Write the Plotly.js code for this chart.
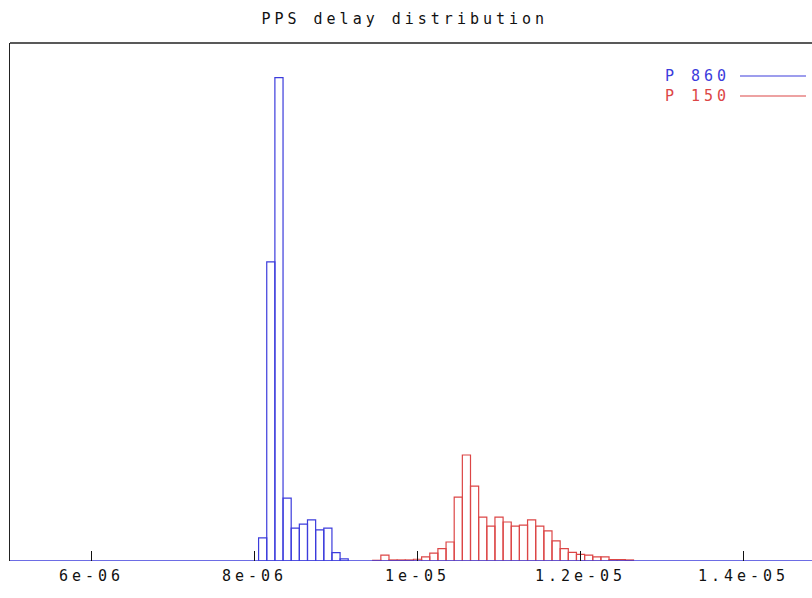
<!DOCTYPE html>
<html>
<head>
<meta charset="utf-8">
<script src="https://cdn.plot.ly/plotly-3.0.1.min.js"></script>
<style>
  html, body { margin: 0; padding: 0; background: #fff; overflow: hidden; }
  #chart { width: 812px; height: 598px; }
  #chart .main-svg text { letter-spacing: 4px; }
</style>
</head>
<body>
<div id="chart"></div>
<script>
// ---- Data ----
const binWidth = 1e-7;

// P 860 histogram (bin centres, counts)
const p860Bins   = [8.1e-6, 8.2e-6, 8.3e-6, 8.4e-6, 8.5e-6, 8.6e-6, 8.7e-6, 8.8e-6, 8.9e-6, 9.0e-6, 9.1e-6];
const p860Counts = [67,     866,    1400,   182,    95,     107,    119,    90,     95,     24,     6];

// P 150 histogram (bin centres, counts)
const p150Bins   = [9.5e-6, 9.6e-6, 9.7e-6, 9.8e-6, 9.9e-6, 1.0e-5, 1.01e-5, 1.02e-5, 1.03e-5, 1.04e-5,
                    1.05e-5, 1.06e-5, 1.07e-5, 1.08e-5, 1.09e-5, 1.10e-5, 1.11e-5, 1.12e-5, 1.13e-5, 1.14e-5,
                    1.15e-5, 1.16e-5, 1.17e-5, 1.18e-5, 1.19e-5, 1.20e-5, 1.21e-5, 1.22e-5, 1.23e-5, 1.24e-5,
                    1.25e-5, 1.26e-5];
const p150Counts = [2,  17, 3,  3,  3,  5,  12, 23, 36, 55,
                    185, 307, 217, 127, 101, 127, 113, 101, 104, 119,
                    101, 87, 58, 36, 25, 19, 17, 12, 12, 4,
                    4, 3];

// zero line of the P 860 histogram across the whole plotted range
const baselineX = [5e-6, 1.5e-5];
const baselineY = [0, 0];

const tickVals  = [6e-6, 8e-6, 1e-5, 1.2e-5, 1.4e-5];
const tickText  = ['6e-06', '8e-06', '1e-05', '1.2e-05', '1.4e-05'];

const seriesNames = ['P 860', 'P 150'];
const titleText = 'PPS delay distribution';

// ---- Styles ----
const blue = '#3c3cdc';
const red  = '#dc4646';
const font = { family: 'DejaVu Sans Mono, monospace', size: 15, color: '#111' };

const legendY = [76, 96];   // pixel rows of the key entries

const traces = [
  {
    type: 'bar', x: p150Bins, y: p150Counts, width: binWidth,
    marker: { color: 'rgba(0,0,0,0)', line: { color: red, width: 1.2 } },
    name: seriesNames[1], showlegend: false, hoverinfo: 'skip'
  },
  {
    type: 'bar', x: p860Bins, y: p860Counts, width: binWidth,
    marker: { color: 'rgba(0,0,0,0)', line: { color: blue, width: 1.2 } },
    name: seriesNames[0], showlegend: false, hoverinfo: 'skip'
  },
  {
    type: 'scatter', mode: 'lines', x: baselineX, y: baselineY,
    line: { color: blue, width: 1.6 }, showlegend: false, hoverinfo: 'skip'
  }
];

const py = v => 1 - (v - 43) / 518;
const px = v => (v - 10) / 802;

const layout = {
  width: 812, height: 598,
  margin: { l: 10, r: 0, t: 43, b: 37, pad: 0 },
  paper_bgcolor: '#fff', plot_bgcolor: '#fff',
  barmode: 'overlay', bargap: 0,
  font: font,
  title: {
    text: titleText, font: font,
    x: 0.4985, xref: 'container', xanchor: 'center',
    y: 1 - 19 / 598, yref: 'container', yanchor: 'middle'
  },
  xaxis: {
    range: [5e-6, 1.4840e-5],
    tickmode: 'array', tickvals: tickVals, ticktext: tickText,
    ticks: 'inside', ticklen: 10, tickwidth: 1.2, tickcolor: '#111',
    ticklabelstandoff: 4,
    showgrid: false, zeroline: false, showline: false,
    tickfont: font, fixedrange: true
  },
  yaxis: {
    range: [0, 1500],
    showticklabels: false, ticks: '', showgrid: false, zeroline: false,
    showline: true, linecolor: '#222', linewidth: 1.5, fixedrange: true
  },
  shapes: [
    { type: 'line', xref: 'paper', yref: 'paper', x0: 0, x1: 1.02, y0: 1, y1: 1,
      line: { color: '#222', width: 1.5 } },
    { type: 'line', xref: 'paper', yref: 'paper', x0: px(740), x1: px(806),
      y0: py(legendY[0]), y1: py(legendY[0]), line: { color: blue, width: 1.2 } },
    { type: 'line', xref: 'paper', yref: 'paper', x0: px(740), x1: px(806),
      y0: py(legendY[1]), y1: py(legendY[1]), line: { color: red, width: 1.2 } }
  ],
  annotations: [
    { text: seriesNames[0], xref: 'paper', yref: 'paper', x: px(722), xanchor: 'right',
      y: py(legendY[0]), yanchor: 'middle', showarrow: false,
      font: { family: font.family, size: 15, color: blue } },
    { text: seriesNames[1], xref: 'paper', yref: 'paper', x: px(722), xanchor: 'right',
      y: py(legendY[1]), yanchor: 'middle', showarrow: false,
      font: { family: font.family, size: 15, color: red } }
  ]
};

Plotly.newPlot('chart', traces, layout, { staticPlot: true, displayModeBar: false });
</script>
</body>
</html>
